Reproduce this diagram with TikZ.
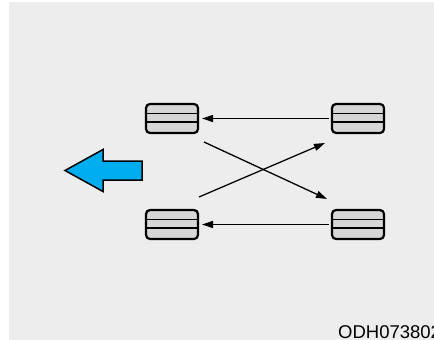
\documentclass[tikz,border=0pt]{standalone}
\usepackage{fontspec}
\setmainfont{Liberation Sans}
\usepackage{tikz}
\usetikzlibrary{arrows.meta}
\usetikzlibrary{calc,positioning}
\definecolor{bggray}{HTML}{EDEDED}
\definecolor{cellgray}{HTML}{D6D6D6}
\definecolor{pushblue}{HTML}{00AEEF}
\tikzset{
  cellbox/.style={draw, line width=2.2pt, rounded corners=4pt, fill=cellgray,
    minimum width=52pt, minimum height=29pt, inner sep=0, outer sep=0,
    path picture={
      \draw[line width=1.9pt] ($(path picture bounding box.north west)+(0,9.5)$) -- ($(path picture bounding box.north east)+(0,9.5)$);
      \draw[line width=1.9pt] ($(path picture bounding box.north west)+(0,18)$) -- ($(path picture bounding box.north east)+(0,18)$);
    }},
  swap/.style={-{Triangle[length=11pt,width=7pt]}, line width=1.3pt},
}

\begin{document}
\begin{tikzpicture}[x=1pt,y=-1pt,node distance=77pt and 134pt]
\useasboundingbox (0,0) rectangle (434,340);
\fill[bggray] (9,2) rectangle (434,340);
%%%%%%%%%%%%%%%%%%%%%%%%%%%%
%%%%%%%%% Cells. %%%%%%%%%%%
%%%%%%%%%%%%%%%%%%%%%%%%%%%%
\node[cellbox] (lt) at (172,118.5) {};
\node[cellbox, right=of lt] (rt) {};
\node[cellbox, below=of lt] (lb) {};
\node[cellbox, below=of rt] (rb) {};
%%%%%%%%%%%%%%%%%%%%%%%%%%%%
%%%%%%%%% Arrows. %%%%%%%%%%
%%%%%%%%%%%%%%%%%%%%%%%%%%%%
\draw[swap, shorten <=3pt, shorten >=4pt] (rt) -- (lt);
\draw[swap, shorten <=3pt, shorten >=4pt] (rb) -- (lb);
\draw[swap] ($(lt.south east)+(6,9)$) -- ($(rb.north west)+(-5,-11)$);
\draw[swap] ($(lb.north east)+(1,-13)$) -- ($(rt.south west)+(-7,10)$);
% big push arrow
\draw[line width=1.5pt, fill=pushblue, line join=miter]
  (142,161) -- (103,161) -- (103,149.5) -- (65,170.5) -- (103,191.5) -- (103,180) -- (142,180) -- cycle;
\node[anchor=base west, inner sep=0] (code) at (338,338) {\fontsize{18.5}{20}\selectfont ODH073802};
\end{tikzpicture}
\end{document}
